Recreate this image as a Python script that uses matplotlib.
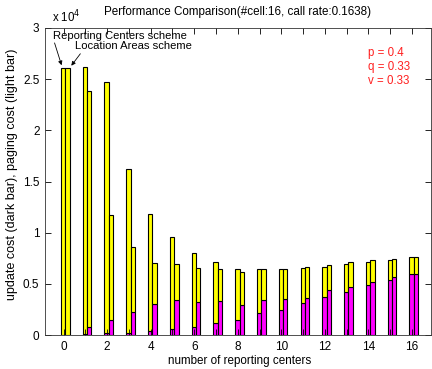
import matplotlib
matplotlib.use("Agg")
import matplotlib.pyplot as plt
from matplotlib.ticker import MultipleLocator, FuncFormatter
import numpy as np

plt.rcParams['font.family'] = ['Liberation Sans', 'DejaVu Sans']

reporting_centers = list(range(17))
# Reporting Centers scheme (left bar of each pair)
rc_update = [0, 70, 160, 230, 390, 590, 780, 1140, 1470, 2120, 2440, 3100, 3680, 4230, 4850, 5380, 5960]
rc_paging = [26100, 26130, 24540, 15970, 11410, 9020, 7200, 5960, 4950, 4300, 3980, 3420, 3000, 2710, 2320, 1980, 1660]
# Location Areas scheme (right bar of each pair)
la_update = [0, 750, 1470, 2200, 3000, 3450, 3260, 3360, 2930, 3420, 3520, 3600, 4400, 4720, 5180, 5640, 5960]
la_paging = [26100, 23050, 10230, 6440, 4000, 3460, 3260, 3060, 3230, 3000, 2900, 3080, 2440, 2380, 2120, 1820, 1660]

W, H = 432, 369
fig = plt.figure(figsize=(W / 100, H / 100), dpi=100)
ax = fig.add_axes([45 / W, (H - 335) / H, (431 - 45) / W, (335 - 28) / H])

x = np.array(reporting_centers, dtype=float)
bw = 0.2
yellow = '#ffff00'
magenta = '#ff00ff'
ekw = dict(edgecolor='black', linewidth=0.8)
ax.bar(x - 0.02, rc_update, width=bw, color=magenta, **ekw)
ax.bar(x - 0.02, rc_paging, width=bw, bottom=rc_update, color=yellow, **ekw)
ax.bar(x + 0.18, la_update, width=bw, color=magenta, **ekw)
ax.bar(x + 0.18, la_paging, width=bw, bottom=la_update, color=yellow, **ekw)

ax.set_xlim(-0.85, 16.87)
ax.set_ylim(0, 30000)
ax.xaxis.set_major_locator(MultipleLocator(2))
ax.xaxis.set_minor_locator(MultipleLocator(1))
ax.yaxis.set_major_locator(MultipleLocator(5000))
ax.yaxis.set_major_formatter(FuncFormatter(lambda v, p: ('%g' % (v / 1e4))))
ax.tick_params(which='both', direction='in', top=True, right=True, length=4,
               width=0.6, labelsize=8.5, colors='black', pad=4)
ax.tick_params(which='minor', length=4)
for s in ax.spines.values():
    s.set_linewidth(0.6)
    s.set_color('#333333')

fig.text(52 / W, 1 - 17 / H, r'x 10$^4$', fontsize=8.3, va='center', ha='left')
fig.text(238 / W, 1 - 12 / H, 'Performance Comparison(#cell:16, call rate:0.1638)',
         fontsize=8.4, ha='center', va='center')
fig.text(240 / W, 1 - 361 / H, 'number of reporting centers', fontsize=8.4,
         ha='center', va='center')
fig.text(12 / W, 1 - 174 / H, 'update cost (dark bar), paging cost (light bar)',
         fontsize=9, rotation=90, ha='center', va='center')

ax.annotate('', xy=(-0.05, 26100), xytext=(-0.45, 28800),
            arrowprops=dict(arrowstyle='-|>', color='black', lw=0.6, mutation_scale=6))
ax.annotate('', xy=(0.28, 26100), xytext=(0.85, 27700),
            arrowprops=dict(arrowstyle='-|>', color='black', lw=0.6, mutation_scale=6))
ax.text(-0.5, 29250, 'Reporting Centers scheme', fontsize=8.1, ha='left', va='center')
ax.text(0.52, 28250, 'Location Areas scheme', fontsize=8.1, ha='left', va='center')

for txt, yy in [('p = 0.4', 53), ('q = 0.33', 67), ('v = 0.33', 81)]:
    fig.text(368 / W, 1 - yy / H, txt, fontsize=8.3, color='#ff2020', ha='left', va='center')

fig.savefig('out.png', dpi=100)
